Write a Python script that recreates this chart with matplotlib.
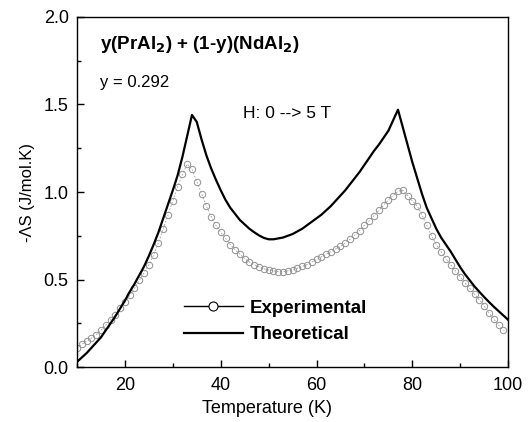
import matplotlib.pyplot as plt
from matplotlib.lines import Line2D
from matplotlib.ticker import MultipleLocator
import numpy as np

plt.rcParams['font.family'] = ['Liberation Sans', 'DejaVu Sans']

# Theoretical curve, 1 K steps from 10 to 100 K
temp_theo = np.arange(10, 101, 1)
ds_theo = [0.03, 0.055, 0.08, 0.11, 0.14, 0.17, 0.21, 0.25, 0.29, 0.335,
           0.38, 0.43, 0.475, 0.525, 0.575, 0.635, 0.70, 0.77, 0.85, 0.93,
           1.01, 1.095, 1.20, 1.32, 1.44, 1.40, 1.30, 1.21, 1.135, 1.07,
           1.01, 0.955, 0.91, 0.875, 0.84, 0.815, 0.79, 0.77, 0.752, 0.738,
           0.73, 0.73, 0.735, 0.74, 0.75, 0.76, 0.775, 0.79, 0.81, 0.83,
           0.85, 0.87, 0.895, 0.92, 0.95, 0.98, 1.01, 1.045, 1.08, 1.115,
           1.155, 1.195, 1.235, 1.27, 1.31, 1.35, 1.41, 1.47, 1.37, 1.27,
           1.17, 1.08, 0.99, 0.91, 0.85, 0.79, 0.74, 0.70, 0.66, 0.615,
           0.57, 0.53, 0.495, 0.46, 0.43, 0.40, 0.372, 0.345, 0.32, 0.295,
           0.27]

# Experimental points, 10 to 99 K
temp_exp = np.arange(10, 100, 1)
ds_exp = [0.11, 0.13, 0.15, 0.165, 0.185, 0.21, 0.24, 0.27, 0.30, 0.335,
          0.37, 0.41, 0.45, 0.495, 0.54, 0.585, 0.64, 0.71, 0.79, 0.87,
          0.95, 1.03, 1.10, 1.16, 1.13, 1.06, 0.99, 0.92, 0.86, 0.81,
          0.77, 0.735, 0.70, 0.67, 0.645, 0.62, 0.60, 0.585, 0.572, 0.562,
          0.555, 0.55, 0.545, 0.545, 0.55, 0.555, 0.565, 0.575, 0.585, 0.60,
          0.615, 0.63, 0.645, 0.66, 0.675, 0.69, 0.71, 0.73, 0.755, 0.78,
          0.81, 0.835, 0.865, 0.895, 0.925, 0.955, 0.98, 1.005, 1.01, 0.98,
          0.95, 0.92, 0.87, 0.81, 0.75, 0.70, 0.66, 0.62, 0.585, 0.55,
          0.515, 0.48, 0.45, 0.415, 0.385, 0.35, 0.31, 0.275, 0.24, 0.21]

fig = plt.figure(figsize=(5.31, 4.22), dpi=100)
ax = fig.add_axes([0.145, 0.130, 0.812, 0.830])

ax.plot(temp_exp, ds_exp, linestyle=(0, (2, 2)), color='#a0a0a0', linewidth=0.6,
        marker='o', markersize=4.6, markerfacecolor='none',
        markeredgecolor='#909090', markeredgewidth=0.7)
ax.plot(temp_theo, ds_theo, color='black', linewidth=1.6)

ax.set_xlim(10, 100)
ax.set_ylim(0, 2.0)
ax.xaxis.set_major_locator(MultipleLocator(20))
ax.xaxis.set_minor_locator(MultipleLocator(10))
ax.yaxis.set_major_locator(MultipleLocator(0.5))
ax.yaxis.set_minor_locator(MultipleLocator(0.25))
ax.tick_params(which='both', direction='in', labelsize=13)
ax.tick_params(which='major', length=5, width=1)
ax.tick_params(which='minor', length=3, width=1)
ax.tick_params(axis='y', pad=6)
ax.tick_params(axis='x', pad=7)
ax.yaxis.set_major_formatter(plt.FormatStrFormatter('%.1f'))
for s in ax.spines.values():
    s.set_linewidth(1)

ax.set_xlabel('Temperature (K)', fontsize=13)
ax.xaxis.set_label_coords(0.44, -0.095)
ax.set_ylabel('-ΛS (J/mol.K)', fontsize=12, labelpad=6)

ax.text(0.053, 0.92, 'y(PrAl$_\\mathbf{2}$) + (1-y)(NdAl$_\\mathbf{2}$)',
        transform=ax.transAxes, fontsize=13.5, fontweight='bold', va='center')
ax.text(0.053, 0.812, 'y = 0.292', transform=ax.transAxes, fontsize=12, va='center')
ax.text(0.385, 0.725, 'H: 0 --> 5 T', transform=ax.transAxes, fontsize=12.5, va='center')

handles = [Line2D([], [], color='black', linewidth=1, marker='o', markersize=6.5,
                  markerfacecolor='white', markeredgecolor='black', markeredgewidth=0.8),
           Line2D([], [], color='black', linewidth=1.6)]
ax.legend(handles, ['Experimental', 'Theoretical'], loc='lower left',
          bbox_to_anchor=(0.21, 0.02), frameon=False, handlelength=3.1,
          handletextpad=0.4, labelspacing=0.5,
          prop={'weight': 'bold', 'size': 13.5})

fig.savefig('out.png', dpi=100)
